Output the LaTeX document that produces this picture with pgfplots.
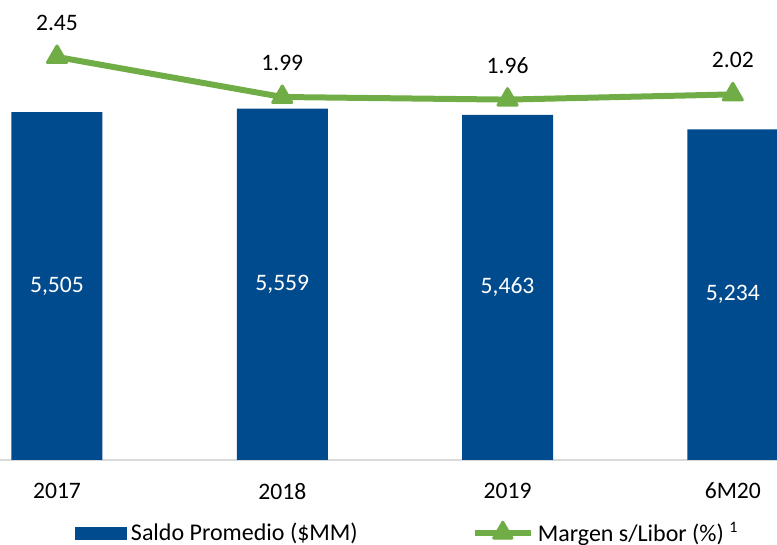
\documentclass[border=0pt]{standalone}
\usepackage{pgfplots}
\pgfplotsset{compat=1.18}
\usepackage{pgfplotstable}
\usepackage{fontspec}
\setmainfont{Carlito}
\definecolor{barblue}{RGB}{0,75,141}
\definecolor{lingreen}{RGB}{112,173,71}
\definecolor{axgray}{RGB}{217,217,217}

\pgfplotstableread{
x saldo margen
0 5505 2.45
1 5559 1.99
2 5463 1.96
3 5234 2.02
}\datos

\begin{document}
\begin{tikzpicture}
\path[use as bounding box] (0,0) rectangle (388.5pt,272.5pt);
\begin{axis}[
  at={(0pt,42.5pt)}, anchor=south west,
  width=388.5pt, height=230pt, scale only axis,
  xmin=-0.253, xmax=3.196, ymin=0, ymax=7280,
  axis x line=bottom, axis y line=none,
  x axis line style={draw=axgray, line width=0.8pt, -},
  xtick={0,1,2,3}, xticklabels={2017,2018,2019,6M20},
  major tick length=0pt,
  xticklabel style={font=\fontsize{11.8}{13}\selectfont, yshift=-8pt},
  ytick=\empty,
  /pgf/number format/assume math mode=true,
  /pgf/number format/1000 sep={,},
  legend columns=2,
  legend style={draw=none, fill=none, inner sep=0pt,
    at={(0.096,-0.159)}, anchor=west,
    font=\fontsize{12}{14}\selectfont,
    /tikz/every even column/.append style={column sep=55pt}},
]
\addplot[ybar, bar width=45.5pt, fill=barblue, draw=none,
  legend image code/.code={\fill[barblue] (0pt,-3.25pt) rectangle (26pt,3.25pt);}]
  table[x=x, y=saldo] {\datos};
\addlegendentry{Saldo Promedio (\$MM)}

% labels in the middle of the bars
\addplot[draw=none, forget plot, nodes near coords, point meta=explicit,
  every node near coord/.append style={anchor=center, text=white,
    font=\fontsize{11.8}{13}\selectfont}]
  table[x=x, y expr=\thisrow{saldo}/2, meta=saldo] {\datos};

\addlegendimage{legend image code/.code={
  \draw[lingreen, line width=3pt] (0pt,0pt) -- (28pt,0pt);
  \fill[lingreen, rounded corners=1pt] (8.5pt,-3pt) -- (19.5pt,-3pt) -- (14pt,6.5pt) -- cycle;}}
\addlegendentry{Margen s/Libor (\%) \textsuperscript{1}}
\end{axis}

\begin{axis}[
  at={(0pt,42.5pt)}, anchor=south west,
  width=388.5pt, height=230pt, scale only axis,
  xmin=-0.253, xmax=3.196, ymin=-2.182, ymax=3.105,
  axis lines=none, clip=false,
  /pgf/number format/assume math mode=true,
  /pgf/number format/fixed,
  /pgf/number format/fixed zerofill,
  /pgf/number format/precision=2,
]
\addplot[lingreen, line width=3pt, line join=round,
  mark=triangle*, mark size=5.5pt,
  mark options={line width=1.5pt, line join=round},
  nodes near coords, point meta=y,
  every node near coord/.append style={anchor=center, text=black,
    yshift=17pt, font=\fontsize{11.8}{13}\selectfont}]
  table[x=x, y=margen] {\datos};
\end{axis}
\end{tikzpicture}
\end{document}
